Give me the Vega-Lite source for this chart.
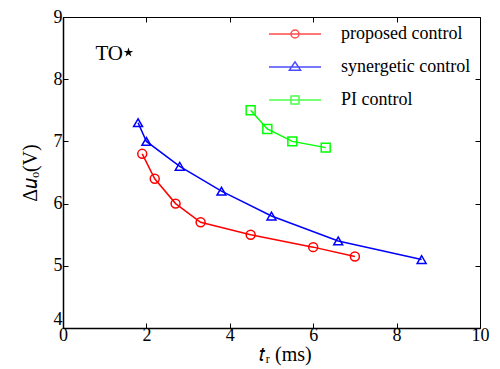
{
  "$schema": "https://vega.github.io/schema/vega-lite/v6.json",
  "width": 417,
  "height": 311,
  "padding": {"left": 20, "top": 8, "right": 5, "bottom": 5},
  "background": "white",
  "config": {
    "view": {"stroke": null},
    "font": "Liberation Serif",
    "axis": {"grid": false, "labelFlush": false, "domainColor": "black", "tickColor": "black", "labelColor": "black", "titleColor": "black", "labelFont": "Liberation Serif", "titleFont": "Liberation Serif", "labelFontSize": 18, "titleFontSize": 20, "titleFontWeight": "normal", "domainWidth": 1.5, "tickWidth": 1, "tickSize": -5, "labelPadding": 3}
  },
  "datasets": {
    "series": [
      {"series": "proposed control", "tr": 1.9, "du": 6.8},
      {"series": "proposed control", "tr": 2.2, "du": 6.4},
      {"series": "proposed control", "tr": 2.7, "du": 6.0},
      {"series": "proposed control", "tr": 3.3, "du": 5.7},
      {"series": "proposed control", "tr": 4.5, "du": 5.5},
      {"series": "proposed control", "tr": 6.0, "du": 5.3},
      {"series": "proposed control", "tr": 7.0, "du": 5.15},
      {"series": "synergetic control", "tr": 1.8, "du": 7.3},
      {"series": "synergetic control", "tr": 2.0, "du": 7.0},
      {"series": "synergetic control", "tr": 2.8, "du": 6.6},
      {"series": "synergetic control", "tr": 3.8, "du": 6.2},
      {"series": "synergetic control", "tr": 5.0, "du": 5.8},
      {"series": "synergetic control", "tr": 6.6, "du": 5.4},
      {"series": "synergetic control", "tr": 8.6, "du": 5.1},
      {"series": "PI control", "tr": 4.5, "du": 7.5},
      {"series": "PI control", "tr": 4.9, "du": 7.2},
      {"series": "PI control", "tr": 5.5, "du": 7.0},
      {"series": "PI control", "tr": 6.3, "du": 6.9}
    ],
    "note": [{"label": "TO", "tr": 1.44, "du": 8.4}],
    "star": [{"tr": 1.57, "du": 8.43}]
  },
  "resolve": {"scale": {"color": "independent", "shape": "independent"}, "axis": {"x": "independent", "y": "independent"}},
  "layer": [
    {
      "data": {"name": "series"},
      "mark": {"type": "line", "strokeWidth": 1.5},
      "encoding": {
        "x": {"field": "tr", "type": "quantitative", "scale": {"domain": [0, 10], "nice": false}, "axis": {"title": "𝑡ᵣ (ms)", "values": [0, 2, 4, 6, 8, 10], "titlePadding": 0, "titleX": 222}},
        "y": {"field": "du", "type": "quantitative", "scale": {"domain": [4, 9], "nice": false, "zero": false}, "axis": {"title": "Δ𝑢ₒ(V)", "values": [4, 5, 6, 7, 8, 9], "titlePadding": 13, "labelPadding": 6, "labelBaseline": {"condition": {"test": "datum.value == 4", "value": "bottom"}, "value": "middle"}}},
        "color": {"field": "series", "type": "nominal", "scale": {"domain": ["proposed control", "synergetic control", "PI control"], "range": ["#ff0000", "#0000ff", "#00ff00"]}, "legend": null}
      }
    },
    {
      "data": {"name": "series"},
      "mark": {"type": "point", "filled": false, "strokeWidth": 1.5, "size": 80, "opacity": 1},
      "encoding": {
        "x": {"field": "tr", "type": "quantitative", "axis": null},
        "y": {"field": "du", "type": "quantitative", "axis": null},
        "color": {"field": "series", "type": "nominal", "scale": {"domain": ["proposed control", "synergetic control", "PI control"], "range": ["#ff0000", "#0000ff", "#00ff00"]}, "legend": null},
        "shape": {"field": "series", "type": "nominal", "scale": {"domain": ["proposed control", "synergetic control", "PI control"], "range": ["circle", "triangle-up", "square"]}, "legend": null}
      }
    },
    {
      "data": {"name": "series"},
      "transform": [{"filter": "false"}],
      "mark": {"type": "point", "filled": false, "strokeWidth": 1.5},
      "encoding": {
        "x": {"field": "tr", "type": "quantitative", "axis": null},
        "y": {"field": "du", "type": "quantitative", "axis": null},
        "color": {"field": "series", "type": "nominal", "scale": {"domain": ["proposed control", "synergetic control", "PI control"], "range": ["#ff0000", "#0000ff", "#00ff00"]}, "legend": {"title": null, "orient": "none", "legendX": 223, "legendY": 8, "padding": 0, "symbolSize": 256, "symbolStrokeWidth": 1.5, "labelOffset": 37, "labelFontSize": 18, "labelFont": "Liberation Serif", "labelColor": "black", "rowPadding": 15, "labelLimit": 300}},
        "shape": {"field": "series", "type": "nominal", "scale": {"domain": ["proposed control", "synergetic control", "PI control"], "range": ["M-3.25,0H3.25M-0.5,0A0.5,0.5,0,1,1,0.5,0A0.5,0.5,0,1,1,-0.5,0Z", "M-3.25,0H3.25M-0.7,0.4L0,-0.65L0.7,0.4Z", "M-3.25,0H3.25M-0.5,-0.5H0.5V0.5H-0.5Z"]}}
      }
    },
    {
      "data": {"name": "note"},
      "mark": {"type": "text", "align": "right", "baseline": "middle", "font": "Liberation Serif", "fontSize": 21, "color": "black"},
      "encoding": {
        "x": {"field": "tr", "type": "quantitative", "axis": {"orient": "top", "labels": false, "title": null, "values": [0, 2, 4, 6, 8, 10], "domainWidth": 1}},
        "y": {"field": "du", "type": "quantitative", "axis": {"orient": "right", "labels": false, "title": null, "values": [4, 5, 6, 7, 8, 9], "domainWidth": 1}},
        "text": {"field": "label"}
      }
    },
    {
      "data": {"name": "star"},
      "mark": {"type": "point", "filled": true, "color": "black", "size": 100, "shape": "M0,-1L0.2245,-0.309L0.951,-0.309L0.363,0.118L0.588,0.809L0,0.382L-0.588,0.809L-0.363,0.118L-0.951,-0.309L-0.2245,-0.309Z", "opacity": 1},
      "encoding": {
        "x": {"field": "tr", "type": "quantitative", "axis": null},
        "y": {"field": "du", "type": "quantitative", "axis": null}
      }
    }
  ]
}
